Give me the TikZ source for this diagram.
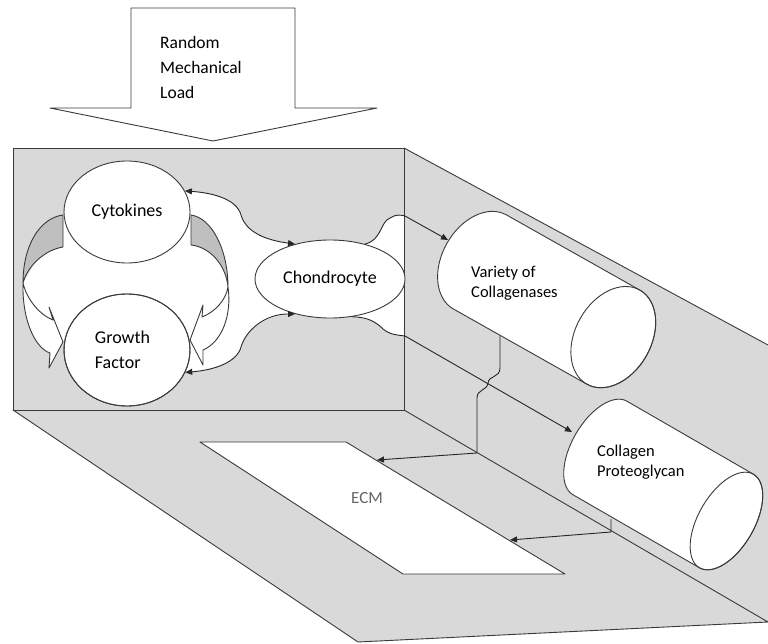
\documentclass[tikz,border=0pt]{standalone}
\usepackage{fontspec}
\setmainfont{Carlito}
\usetikzlibrary{arrows.meta,shapes.geometric}
\definecolor{facegray}{HTML}{D9D9D9}
\definecolor{backgray}{HTML}{BFBFBF}
\definecolor{edge}{HTML}{3A3A3A}
\pgfdeclarelayer{bg}
\pgfsetlayers{bg,main}
\begin{document}
\begin{tikzpicture}[x=1pt,y=-1pt,
  outline/.style={draw=edge, line width=0.9pt, line join=round},
  link/.style={draw=black!85, line width=0.9pt},
  tip/.style={-{Triangle[length=7pt,width=6pt]}},
  twotip/.style={{Triangle[length=7pt,width=6pt]}-{Triangle[length=7pt,width=6pt]}},
  lbl/.style={font=\fontsize{17.5}{25}\selectfont, text=black, inner sep=0pt, align=left},
  cyllbl/.style={font=\fontsize{16.5}{20.5}\selectfont, text=black, inner sep=0pt, align=left},
  blob/.style={ellipse, draw=edge, line width=0.9pt, fill=white, inner sep=0pt,
    font=\fontsize{18}{25}\selectfont, text=black, align=left}
]
\useasboundingbox (0,0) rectangle (768,644);

% load arrow
\path[outline, fill=white] (131,8) -- (295,8) -- (295,108) -- (377,108) -- (213,141) -- (50,108) -- (131,108) -- cycle;
\node[lbl, anchor=west] (load) at (160,67) {Random\\Mechanical\\Load};

% named ends
\coordinate (cyl1in) at (448,240);
\coordinate (cyl2in) at (572,432);
\coordinate (cyl1out) at (500,336);
\coordinate (cyl2out) at (611,519);
\coordinate (ecm1) at (377,460);
\coordinate (ecm2) at (510,540);

% ellipses
\node[blob, minimum width=126pt, minimum height=102pt] (cyto) at (127,212) {\raisebox{4pt}{Cytokines}};
\node[blob, minimum width=126pt, minimum height=112pt] (gf) at (127,350) {\hspace*{-9pt}Growth\\\hspace*{-9pt}Factor};
\node[blob, minimum width=150pt, minimum height=78pt] (chon) at (330,279) {Chondrocyte};

\begin{pgfonlayer}{bg}
% right face
\fill[facegray] (404,148) -- (768,345) -- (768,622) -- (404,410) -- cycle;
\draw[outline] (404,148) -- (768,345);
% floor
\path[outline, fill=facegray] (13,410) -- (404,410) -- (768,622) -- (358,642) -- cycle;
% ECM plate
\path[outline, fill=white] (200,442) -- (346,442) -- (565,574) -- (403,574) -- cycle;
% front face
\path[outline, fill=facegray] (13,148) rectangle (404,410);
% white region
\fill[white] (cyto.20) .. controls (215,193) and (237,200) .. (241,215) .. controls (246,232) and (265,240) .. (chon.135)
  -- (chon.45) .. controls (382,240) and (380,222) .. (390,218) .. controls (396,214) and (401,215) .. (404,216)
  -- (404,336) .. controls (398,335) and (390,335) .. (383,329) .. controls (376,322) and (368,317) .. (chon.-60)
  -- (chon.225) .. controls (265,314) and (246,330) .. (241,347) .. controls (237,362) and (215,370) .. (gf.-21)
  -- (127,350) -- (64,342) -- (53,320) .. controls (40,315) and (27,300) .. (23,283) -- (63,215) -- (127,212) -- cycle;
\draw[outline] (404,148) -- (404,410);
\end{pgfonlayer}

\node[font=\fontsize{17}{20}\selectfont, text=black!60, inner sep=0pt] (ecm) at (367,498) {ECM};

% curved block arrows, left
\path[outline, fill=backgray] (63,215) .. controls (40,218) and (23,245) .. (23,283) .. controls (28,265) and (45,250) .. (63,247) -- cycle;
\path[outline, fill=white] (23,283) .. controls (22,320) and (35,348) .. (50,353) -- (49,368) -- (63,342) -- (49,307) -- (53,320) .. controls (40,315) and (27,300) .. (23,283) -- cycle;
% curved block arrows, right
\path[outline, fill=backgray] (191,215) .. controls (212,218) and (228,250) .. (228,287) .. controls (226,265) and (210,247) .. (191,245) -- cycle;
\path[outline, fill=white] (228,287) .. controls (232,315) and (222,342) .. (203,350) -- (203,365) -- (190,340) -- (203,305) -- (202,317) .. controls (215,312) and (226,300) .. (228,287) -- cycle;
\draw[outline] (gf.center) ellipse[x radius=63, y radius=56];

% connectors
\draw[link, twotip] (cyto.20) .. controls (215,193) and (237,200) .. (241,215) .. controls (246,232) and (265,240) .. (chon.135);
\draw[link, twotip] (gf.-21) .. controls (215,370) and (237,362) .. (241,347) .. controls (246,330) and (265,314) .. (chon.225);
\draw[link, tip] (chon.45) .. controls (382,240) and (380,222) .. (390,218) .. controls (396,214) and (401,215) .. (405,216) -- (cyl1in);
\draw[link, tip] (chon.-60) .. controls (368,317) and (376,322) .. (383,329) .. controls (390,335) and (398,335) .. (405,336) -- (cyl2in);

% cylinder 1
\begin{scope}[shift={(480,262)}, rotate=-29.4]
  \path[outline, fill=white] (0,-54) -- (153,-54) arc[start angle=-90, end angle=90, x radius=38, y radius=54] -- (0,54) arc[start angle=90, end angle=270, x radius=38, y radius=54] -- cycle;
  \draw[outline] (153,0) ellipse[x radius=38, y radius=54];
\end{scope}
\node[cyllbl, anchor=west] (cyl1) at (471,283) {Variety of\\Collagenases};

% cylinder 2
\begin{scope}[shift={(600,448)}, rotate=-30]
  \path[outline, fill=white] (0,-54) -- (146,-54) arc[start angle=-90, end angle=90, x radius=28, y radius=54] -- (0,54) arc[start angle=90, end angle=270, x radius=28, y radius=54] -- cycle;
  \draw[outline] (146,0) ellipse[x radius=28, y radius=54];
\end{scope}
\node[cyllbl, anchor=west] (cyl2) at (597,462) {Collagen\\Proteoglycan};

% outputs to ECM
\draw[link, tip] (cyl1out) -- (500,368) .. controls (500,378) and (489,375) .. (488,383) .. controls (487,391) and (477,389) .. (477,398) -- (477,453) -- (ecm1);
\draw[link, tip] (cyl2out) -- (611,532) -- (ecm2);
\end{tikzpicture}
\end{document}
